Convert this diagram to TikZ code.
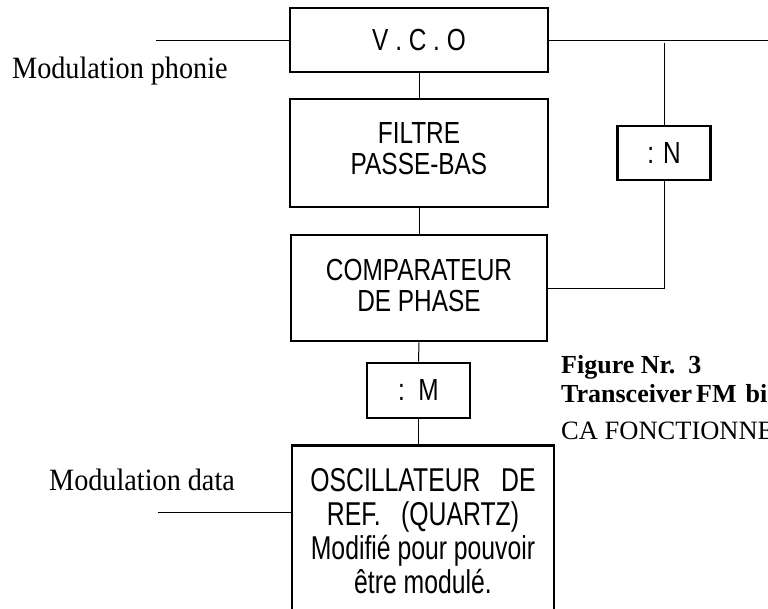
\documentclass[tikz,border=0pt]{standalone}
\usepackage{fontspec}
\setmainfont{Liberation Serif}
\newfontfamily\lblfont[FakeStretch=0.91]{Liberation Serif}
\newfontfamily\boxfont[FakeStretch=0.80]{Liberation Sans}
\newfontfamily\oscfont[FakeStretch=0.75]{Liberation Sans}
\begin{document}
\begin{tikzpicture}[x=1pt,y=-1pt,
  box/.style={draw, line width=2.6pt, font=\boxfont\fontsize{30.5}{31.5}\selectfont, align=center, inner sep=0pt},
  wire/.style={line width=1pt},
  lbl/.style={font=\lblfont\fontsize{31}{32}\selectfont, inner sep=0pt, anchor=base west},
  capt/.style={font=\fontsize{26.5}{30}\selectfont, inner sep=0pt, anchor=base west},
  captb/.style={font=\fontsize{26}{30}\selectfont\bfseries, inner sep=0pt, anchor=base west}]
\useasboundingbox (0,0) rectangle (768,608);
\clip (0,0) rectangle (768,608);

\node[box, minimum width=258, minimum height=64] (vco) at (419,40) {V . C . O};
\node[box, minimum width=258, minimum height=108, text depth=9pt] (filt) at (419,153) {FILTRE\\PASSE-BAS};
\node[box, minimum width=256, minimum height=106, text depth=5pt] (comp) at (419,288) {COMPARATEUR\\DE PHASE};
\node[box, minimum width=103, minimum height=55] (divm) at (418.5,390.5) {:\ \ M};
\node[box, minimum width=93, minimum height=54] (divn) at (664,153) {: N};
\node[box, anchor=north, minimum width=262, minimum height=172,
      font=\oscfont\fontsize{33}{34}\selectfont] (osc) at (423,444)
  {OSCILLATEUR\ \ \ DE\\REF.\ \ \ (QUARTZ)\\Modifié pour pouvoir\\être modulé.};

\coordinate (phin) at (156,40);
\coordinate (outr) at (768,40);
\coordinate (tap) at (664,43);
\coordinate (dat) at (158,512);

\draw[wire] (phin) -- (vco.west);
\draw[wire] (vco.east) -- (outr);
\draw[wire] (tap) -- (divn.north);
\draw[wire] (divn.south) |- (comp.east);
\draw[wire] (vco.south) -- (filt.north);
\draw[wire] (filt.south) -- (comp.north);
\draw[wire] (comp.south) -- (divm.north);
\draw[wire] (divm.south) -- (divm.south |- osc.north);
\draw[wire] (dat) -- (dat -| osc.west);

\node[lbl] (phon) at (12,78) {Modulation phonie};
\node[lbl] (mdat) at (49,490) {Modulation data};
\node[captb] (fig1) at (561,373) {Figure Nr.\ \ 3};
\node[captb] (fig2) at (561,402) {Transceiver\kern4pt FM\kern9pt bi};
\node[capt] (fig3) at (561,439) {CA FONCTIONNE};
\end{tikzpicture}
\end{document}
